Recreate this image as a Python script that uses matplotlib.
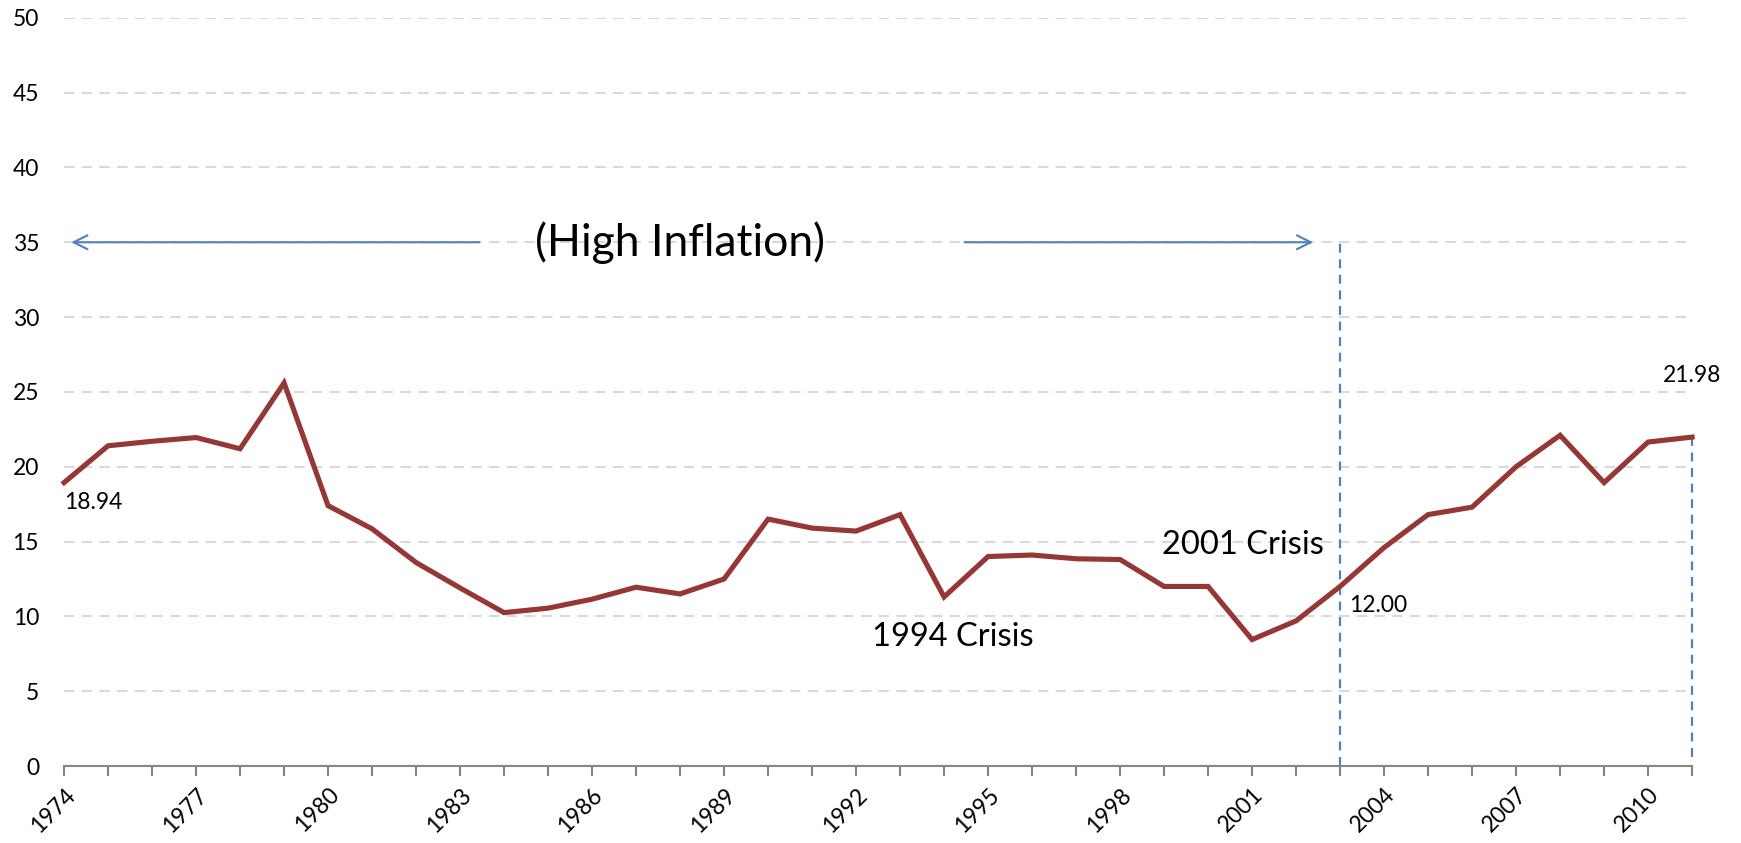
import matplotlib.pyplot as plt
import numpy as np

#############################################################
# Data
#############################################################
years = np.arange(1974, 2012)
values = [18.94, 21.4, 21.7, 21.95, 21.2, 25.6, 17.4, 15.85, 13.6, 11.9,
          10.25, 10.55, 11.15, 11.95, 11.5, 12.5, 16.5, 15.9, 15.7, 16.8,
          11.3, 14.0, 14.1, 13.85, 13.8, 12.0, 12.0, 8.45, 9.7, 12.0,
          14.6, 16.8, 17.3, 20.0, 22.1, 18.94, 21.65, 21.98]
tick_years = list(range(1974, 2011, 3))
y_ticks = list(range(0, 51, 5))

labels = {1974: '18.94', 2003: '12.00', 2011: '21.98'}

#############################################################
# Plot
#############################################################
plt.rcParams['font.family'] = ['Lato', 'DejaVu Sans']

fig = plt.figure(figsize=(17.41, 8.43), dpi=100)
ax = fig.add_axes([0.0368, 0.0913, 0.9351, 0.8876])

line_color = '#953735'
blue = '#4F81BD'

for y in y_ticks[1:]:
    ax.axhline(y, color='#d9d9d9', lw=1.5, ls=(0, (5, 3.5)), zorder=0)

ax.plot(years, values, color=line_color, lw=3.7, zorder=3, solid_joinstyle='miter',
        clip_on=False)

# vertical markers
ax.plot([2003, 2003], [0, 35], color=blue, lw=1.6, ls=(0, (4, 3)), zorder=2)
ax.plot([2011, 2011], [0.6, values[-1]], color=blue, lw=1.6, ls=(0, (4, 3)), zorder=2,
        clip_on=False)

# arrows
ax.annotate('', xy=(1974.1, 35), xytext=(1983.5, 35),
            arrowprops=dict(arrowstyle='->', color=blue, lw=1.5, mutation_scale=25))
ax.annotate('', xy=(2002.45, 35), xytext=(1994.4, 35),
            arrowprops=dict(arrowstyle='->', color=blue, lw=1.5, mutation_scale=25))

ax.text(1988.0, 35, '(High Inflation)', fontsize=32, ha='center', va='center')
ax.text(2000.8, 14.8, '2001 Crisis', fontsize=23.5, ha='center', va='center')
ax.text(1994.2, 8.6, '1994 Crisis', fontsize=23.5, ha='center', va='center')

ax.text(1974, 17.6, labels[1974], fontsize=16.5, ha='left', va='center')
ax.text(2003.2, 10.75, labels[2003], fontsize=16.5, ha='left', va='center')
ax.text(2011, 26.1, labels[2011], fontsize=16.5, ha='center', va='center')

ax.set_xlim(1974, 2011)
ax.set_ylim(0, 50)
ax.set_yticks(y_ticks)
ax.set_xticks(years, minor=True)
ax.set_xticks(tick_years)
ax.set_xticklabels([str(y) for y in tick_years], rotation=45, ha='right',
                   rotation_mode='anchor', fontsize=16.5)
ax.tick_params(axis='y', length=0, labelsize=16.5, pad=18)
ax.tick_params(axis='x', which='both', length=7, width=1.5, color='#868686', pad=6)

for s in ['top', 'right', 'left']:
    ax.spines[s].set_visible(False)
ax.spines['bottom'].set_color('#868686')
ax.spines['bottom'].set_linewidth(1.5)

fig.savefig('out.png', dpi=100)
